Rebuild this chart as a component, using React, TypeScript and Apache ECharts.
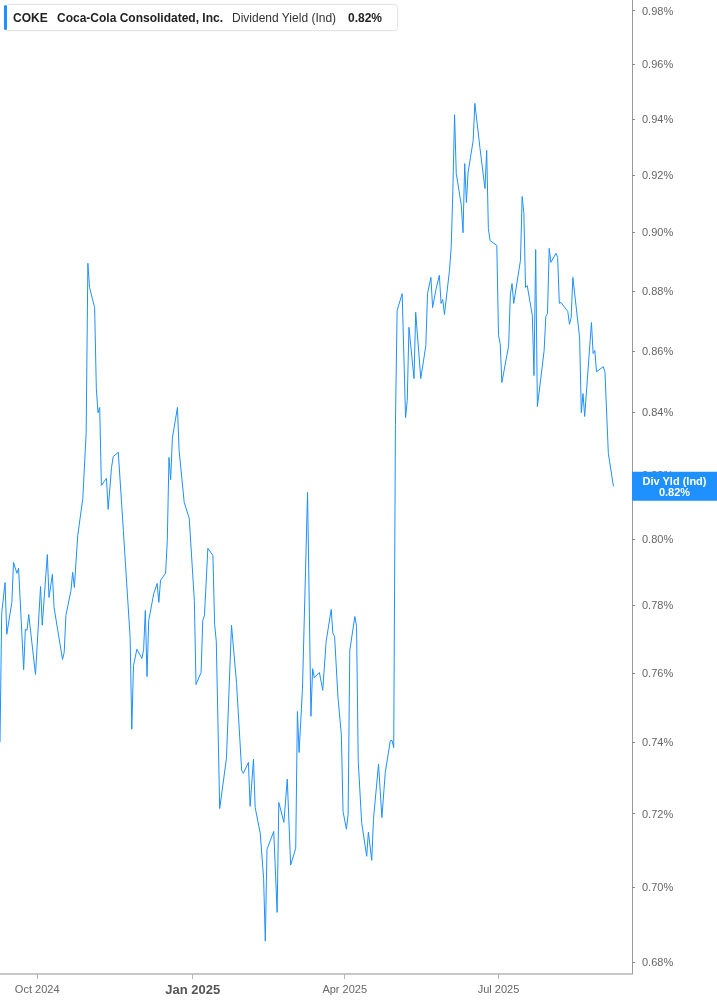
import { useEffect, useRef } from "react";
import * as echarts from "echarts";

// COKE dividend yield (Ind)
const dates = [
  "2024-09-09", "2024-09-10", "2024-09-12", "2024-09-13", "2024-09-16", "2024-09-17", "2024-09-19", "2024-09-20",
  "2024-09-23", "2024-09-24", "2024-09-25", "2024-09-26", "2024-09-30", "2024-10-03", "2024-10-04", "2024-10-07",
  "2024-10-08", "2024-10-10", "2024-10-11", "2024-10-16", "2024-10-17", "2024-10-18", "2024-10-21", "2024-10-22",
  "2024-10-23", "2024-10-25", "2024-10-28", "2024-10-30", "2024-10-31", "2024-11-01", "2024-11-04", "2024-11-05",
  "2024-11-06", "2024-11-07", "2024-11-08", "2024-11-11", "2024-11-12", "2024-11-14", "2024-11-15", "2024-11-18",
  "2024-11-21", "2024-11-25", "2024-11-26", "2024-11-27", "2024-11-29", "2024-12-02", "2024-12-03", "2024-12-04",
  "2024-12-05", "2024-12-06", "2024-12-09", "2024-12-11", "2024-12-12", "2024-12-13", "2024-12-16", "2024-12-17",
  "2024-12-18", "2024-12-19", "2024-12-20", "2024-12-23", "2024-12-24", "2024-12-27", "2024-12-30", "2025-01-02",
  "2025-01-03", "2025-01-06", "2025-01-07", "2025-01-08", "2025-01-10", "2025-01-13", "2025-01-14", "2025-01-15",
  "2025-01-17", "2025-01-21", "2025-01-24", "2025-01-27", "2025-01-30", "2025-01-31", "2025-02-03", "2025-02-04",
  "2025-02-06", "2025-02-07", "2025-02-10", "2025-02-12", "2025-02-13", "2025-02-14", "2025-02-18", "2025-02-20",
  "2025-02-21", "2025-02-24", "2025-02-26", "2025-02-28", "2025-03-03", "2025-03-04", "2025-03-05", "2025-03-07",
  "2025-03-10", "2025-03-12", "2025-03-13", "2025-03-14", "2025-03-17", "2025-03-19", "2025-03-21", "2025-03-24",
  "2025-03-25", "2025-03-26", "2025-03-28", "2025-03-30", "2025-03-31", "2025-04-02", "2025-04-03", "2025-04-04",
  "2025-04-07", "2025-04-08", "2025-04-09", "2025-04-11", "2025-04-14", "2025-04-15", "2025-04-17", "2025-04-18",
  "2025-04-21", "2025-04-23", "2025-04-25", "2025-04-28", "2025-04-29", "2025-04-30", "2025-05-01", "2025-05-02",
  "2025-05-05", "2025-05-07", "2025-05-08", "2025-05-09", "2025-05-12", "2025-05-13", "2025-05-16", "2025-05-19",
  "2025-05-20", "2025-05-22", "2025-05-23", "2025-05-25", "2025-05-27", "2025-05-28", "2025-05-29", "2025-05-30",
  "2025-06-02", "2025-06-03", "2025-06-04", "2025-06-05", "2025-06-06", "2025-06-09", "2025-06-10", "2025-06-11",
  "2025-06-12", "2025-06-13", "2025-06-16", "2025-06-17", "2025-06-20", "2025-06-23", "2025-06-24", "2025-06-25",
  "2025-06-26", "2025-06-30", "2025-07-01", "2025-07-02", "2025-07-03", "2025-07-07", "2025-07-08", "2025-07-09",
  "2025-07-10", "2025-07-14", "2025-07-15", "2025-07-16", "2025-07-17", "2025-07-18", "2025-07-21", "2025-07-22",
  "2025-07-23", "2025-07-24", "2025-07-28", "2025-07-29", "2025-07-30", "2025-07-31", "2025-08-01", "2025-08-04",
  "2025-08-05", "2025-08-06", "2025-08-07", "2025-08-11", "2025-08-12", "2025-08-13", "2025-08-14", "2025-08-18",
  "2025-08-19", "2025-08-20", "2025-08-21", "2025-08-25", "2025-08-26", "2025-08-27", "2025-08-28", "2025-09-01",
  "2025-09-02", "2025-09-04", "2025-09-07",
];

const yields = [
  0.740, 0.7775, 0.7868, 0.7713, 0.7808, 0.7929, 0.7896, 0.7911,
  0.7609, 0.7728, 0.7725, 0.7772, 0.7595, 0.7856, 0.7740, 0.7953,
  0.7823, 0.7893, 0.7793, 0.7639, 0.7660, 0.7769, 0.7844, 0.7899,
  0.7853, 0.8011, 0.8126, 0.8335, 0.8894, 0.8812, 0.8744, 0.8477,
  0.8398, 0.8415, 0.8167, 0.8189, 0.8092, 0.8223, 0.8258, 0.8271,
  0.8027, 0.7704, 0.7437, 0.7621, 0.7669, 0.7642, 0.7669, 0.7784,
  0.7589, 0.7754, 0.7835, 0.7865, 0.7808, 0.7875, 0.7896, 0.7996,
  0.8255, 0.8185, 0.8316, 0.8415, 0.8277, 0.8114, 0.8064, 0.7814,
  0.7566, 0.7601, 0.7754, 0.7769, 0.7972, 0.7950, 0.7743, 0.7692,
  0.7214, 0.7354, 0.7740, 0.7569, 0.7321, 0.7312, 0.7343, 0.7220,
  0.7352, 0.7217, 0.7146, 0.7023, 0.6856, 0.7102, 0.7151, 0.6932,
  0.7231, 0.7176, 0.7296, 0.7059, 0.7105, 0.7488, 0.7371, 0.7555,
  0.8145, 0.7474, 0.7612, 0.7586, 0.7601, 0.7549, 0.7692, 0.7787,
  0.7716, 0.7707, 0.7529, 0.7422, 0.7206, 0.7157, 0.7198, 0.7666,
  0.7766, 0.7737, 0.7346, 0.7176, 0.7083, 0.7149, 0.7072, 0.7184,
  0.7338, 0.7189, 0.7315, 0.7405, 0.7405, 0.7385, 0.8360, 0.8734,
  0.8791, 0.8382, 0.8438, 0.8678, 0.8509, 0.8728, 0.8509, 0.8617,
  0.8791, 0.8846, 0.8744, 0.8805, 0.8853, 0.8758, 0.8771, 0.8721,
  0.8870, 0.8948, 0.9146, 0.9416, 0.9206, 0.9094, 0.8999, 0.9241,
  0.9104, 0.9209, 0.9323, 0.9457, 0.9298, 0.9153, 0.9288, 0.9013,
  0.8972, 0.8955, 0.8651, 0.8624, 0.8496, 0.8617, 0.8788, 0.8825,
  0.8758, 0.8904, 0.9125, 0.9066, 0.8812, 0.8818, 0.8718, 0.8519,
  0.8941, 0.8418, 0.8601, 0.8714, 0.8724, 0.8945, 0.8897, 0.8928,
  0.8914, 0.8758, 0.8761, 0.8731, 0.8688, 0.8711, 0.8846, 0.8644,
  0.8398, 0.8460, 0.8386, 0.8694, 0.8591, 0.8601, 0.8531, 0.8548,
  0.8531, 0.8268, 0.8164,
];

const yTicks = [0.68, 0.7, 0.72, 0.74, 0.76, 0.78, 0.8, 0.82, 0.84, 0.86, 0.88, 0.9, 0.92, 0.94, 0.96, 0.98];
const monthTicks = ["2024-10-01", "2025-01-01", "2025-04-01", "2025-07-01"];
const monthNames = ["Jan", "Feb", "Mar", "Apr", "May", "Jun", "Jul", "Aug", "Sep", "Oct", "Nov", "Dec"];

const ticker = "COKE";
const company = "Coca-Cola Consolidated, Inc.";
const metric = "Dividend Yield (Ind)";
const badgeName = "Div Yld (Ind)";

const BLUE = "#1e90ff";
const FONT = 'Arial, "Liberation Sans", sans-serif';

const toTime = (s: string) => {
  const [y, m, d] = s.split("-").map(Number);
  return new Date(y, m - 1, d).getTime();
};

export default function App() {
  const ref = useRef<HTMLDivElement>(null);

  useEffect(() => {
    const el = ref.current;
    if (!el) return;
    const chart = echarts.init(el, null, { renderer: "svg" });

    const latest = yields[yields.length - 1];
    const latestText = `${latest.toFixed(2)}%`;
    // log price axis: plot ln(yield) on a value axis; x is a timestamp value axis
    const seriesData = dates.map((d, i) => [toTime(d), Math.log(yields[i])]);
    const xTicks = monthTicks.map(toTime);
    const yTickValues = yTicks.map((v) => Math.log(v));

    const option: echarts.EChartsOption = {
      animation: false,
      textStyle: { fontFamily: FONT },
      grid: { left: 0, right: 85, top: 0, bottom: 31 },
      xAxis: {
        type: "value",
        min: toTime("2024-09-09"),
        max: toTime("2025-09-18"),
        splitLine: { show: false },
        axisLine: { show: true, lineStyle: { color: "#b5b5b5", width: 1.5 } },
        axisTick: {
          show: true,
          length: 5,
          lineStyle: { color: "#b5b5b5" },
          customValues: xTicks,
        },
        axisLabel: {
          customValues: xTicks,
          color: "#666",
          fontSize: 11,
          margin: 9,
          formatter: (value: number) => {
            const d = new Date(value);
            const label = `${monthNames[d.getMonth()]} ${d.getFullYear()}`;
            return d.getMonth() === 0 ? `{year|${label}}` : label;
          },
          rich: {
            year: { fontWeight: "bold", fontSize: 13, color: "#555", fontFamily: FONT },
          },
        },
      },
      yAxis: {
        type: "value",
        position: "right",
        min: Math.log(0.677),
        max: Math.log(0.984),
        splitLine: { show: false },
        axisLine: { show: true, lineStyle: { color: "#999", width: 1 } },
        axisTick: {
          show: true,
          length: 3,
          lineStyle: { color: "#888" },
          customValues: yTickValues,
        },
        axisLabel: {
          customValues: yTickValues,
          color: "#666",
          fontSize: 11,
          margin: 10,
          formatter: (value: number) => `${Math.exp(value).toFixed(2)}%`,
        },
      },
      series: [
        {
          type: "line",
          data: seriesData,
          showSymbol: false,
          lineStyle: { color: BLUE, width: 1 },
          itemStyle: { color: BLUE },
          endLabel: {
            show: true,
            distance: 18.6,
            formatter: () => `{a|${badgeName}}\n{a|${latestText}}`,
            backgroundColor: BLUE,
            padding: [4, 0, 3, 0],
            rich: {
              a: {
                width: 85,
                align: "center",
                color: "#fff",
                fontWeight: "bold",
                fontSize: 11,
                lineHeight: 11,
                fontFamily: FONT,
              },
            },
          },
        },
      ],
      graphic: [
        {
          type: "rect",
          shape: { x: 4.5, y: 4.5, width: 393, height: 26, r: 3 },
          style: { fill: "#fff", stroke: "#e4e4e4", lineWidth: 1, shadowBlur: 2, shadowColor: "rgba(0,0,0,0.06)" },
        },
        {
          type: "rect",
          shape: { x: 4, y: 5, width: 3, height: 25, r: 1.5 },
          style: { fill: BLUE },
        },
        {
          type: "text",
          x: 13,
          y: 17.5,
          style: { text: ticker, fontSize: 12, fontWeight: "bold", fontFamily: FONT, fill: "#222", verticalAlign: "middle" },
        },
        {
          type: "text",
          x: 57,
          y: 17.5,
          style: { text: company, fontSize: 12, fontWeight: "bold", fontFamily: FONT, fill: "#222", verticalAlign: "middle" },
        },
        {
          type: "text",
          x: 232,
          y: 17.5,
          style: { text: metric, fontSize: 12, fontFamily: FONT, fill: "#333", verticalAlign: "middle" },
        },
        {
          type: "text",
          x: 348,
          y: 17.5,
          style: { text: latestText, fontSize: 12, fontWeight: "bold", fontFamily: FONT, fill: "#222", verticalAlign: "middle" },
        },
      ],
    };

    chart.setOption(option);

    return () => {
      chart.dispose();
    };
  }, []);

  return <div ref={ref} style={{ position: "fixed", left: 0, top: 0, width: 717, height: 1005 }} />;
}
